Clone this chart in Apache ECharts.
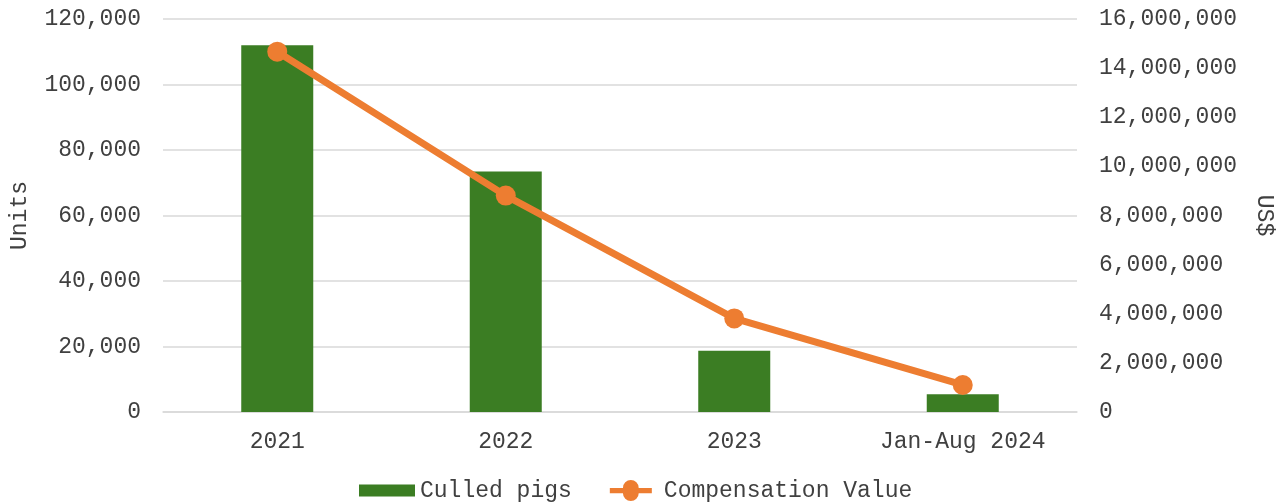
<html>
<head>
    <meta charset="utf-8">
    <script src="https://cdn.jsdelivr.net/npm/echarts@6/dist/echarts.min.js"></script>
</head>
<body style="margin:0;background:#fff">
<div id="main" style="width:1277px;height:504px;"></div>
<script type="text/javascript">
    var years = ['2021', '2022', '2023', 'Jan-Aug 2024'];
    var culledPigs = [112000, 73400, 18700, 5400];
    var compensation = [14670000, 8810000, 3810000, 1100000];

    var font = '"Liberation Mono", "Courier New", monospace';
    var myChart = echarts.init(document.getElementById('main'));

    // legend icons drawn as paths so the box padding is kept
    var barIcon = 'path://M0,0 L0,0 M0,21 L0,21 M0,4.5 L56,4.5 L56,16.5 L0,16.5 Z';
    var lineIcon = 'path://M0,7 L17.5,7 A10.5,10.5 0 0,1 38.5,7 L56,7 L56,14 L38.5,14 A10.5,10.5 0 0,1 17.5,14 L0,14 Z';

    var option = {
        animation: false,
        textStyle: { fontFamily: font },
        grid: { left: 163, right: 200, top: 19, bottom: 92, outerBoundsMode: 'none', containLabel: false },
        legend: {
            bottom: 2,
            left: 359,
            padding: 0,
            itemWidth: 56,
            itemHeight: 21,
            itemGap: 38,
            textStyle: { fontFamily: font, fontSize: 23, color: '#404040' },
            data: [
                { name: 'Culled pigs', icon: barIcon },
                { name: 'Compensation Value', icon: lineIcon }
            ]
        },
        xAxis: {
            type: 'category',
            data: years,
            axisTick: { show: false },
            axisLine: { lineStyle: { color: '#d9d9d9', width: 1.5 } },
            axisLabel: { fontFamily: font, fontSize: 23, color: '#404040', margin: 18 }
        },
        yAxis: [{
            type: 'value',
            name: 'Units',
            nameLocation: 'middle',
            nameGap: 132,
            nameTextStyle: { fontFamily: font, fontSize: 23, color: '#404040' },
            min: 0, max: 120000, interval: 20000,
            axisLabel: {
                fontFamily: font, fontSize: 23, color: '#404040', margin: 22,
                formatter: function (v) { return v.toLocaleString('en-US'); }
            },
            splitLine: { lineStyle: { color: '#d9d9d9', width: 1.5 } }
        }, {
            type: 'value',
            name: 'US$',
            nameLocation: 'middle',
            nameGap: 176,
            nameRotate: -90,
            nameTextStyle: { fontFamily: font, fontSize: 23, color: '#404040' },
            min: 0, max: 16000000, interval: 2000000,
            axisLabel: {
                fontFamily: font, fontSize: 23, color: '#404040', margin: 22,
                formatter: function (v) { return v.toLocaleString('en-US'); }
            },
            splitLine: { show: false }
        }],
        series: [{
            name: 'Culled pigs',
            type: 'bar',
            data: culledPigs,
            barWidth: 72,
            itemStyle: { color: '#3b7d23' }
        }, {
            name: 'Compensation Value',
            type: 'line',
            yAxisIndex: 1,
            data: compensation,
            symbol: 'circle',
            symbolSize: 20,
            lineStyle: { color: '#ed7d31', width: 7 },
            itemStyle: { color: '#ed7d31' }
        }]
    };

    myChart.setOption(option);
</script>
</body>
</html>
